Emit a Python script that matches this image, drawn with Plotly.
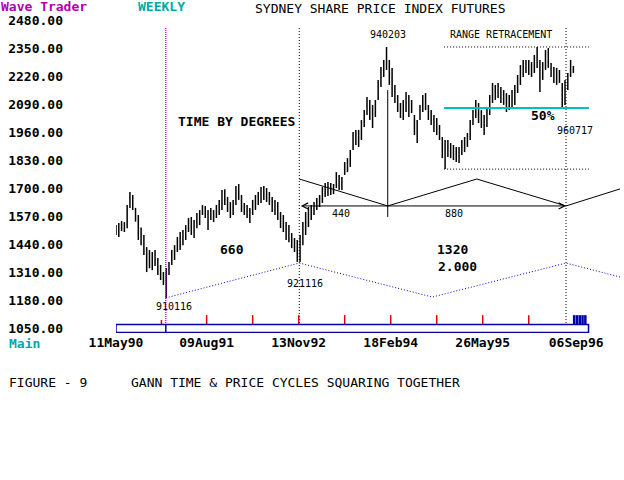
import pandas as pd
import plotly.graph_objects as go

START = "1990-05-11"
END = "1997-04-14"

# fortnightly high / low
bar_dates = pd.date_range(START, periods=165, freq="14D")
highs = [
    1530, 1540, 1549, 1544, 1623, 1684, 1670, 1610, 1577, 1519,
    1484, 1428, 1414, 1405, 1414, 1377, 1345, 1312, 1331, 1359,
    1414, 1437, 1475, 1498, 1507, 1530, 1563, 1568, 1554, 1586,
    1600, 1623, 1619, 1600, 1610, 1600, 1623, 1647, 1693, 1697,
    1661, 1637, 1647, 1712, 1721, 1670, 1633, 1623, 1610, 1647,
    1670, 1684, 1707, 1712, 1702, 1684, 1661, 1647, 1637, 1591,
    1577, 1544, 1530, 1493, 1470, 1461, 1484, 1544, 1591, 1614,
    1623, 1637, 1656, 1670, 1707, 1725, 1730, 1725, 1721, 1776,
    1763, 1753, 1823, 1841, 1879, 1962, 1972, 1972, 2018, 2064,
    2125, 2111, 2088, 2111, 2204, 2264, 2297, 2357, 2297, 2260,
    2181, 2134, 2097, 2111, 2148, 2134, 2111, 2041, 2018, 2088,
    2134, 2143, 2088, 2064, 2041, 2027, 1995, 1939, 1925, 1925,
    1911, 1902, 1893, 1893, 1925, 1939, 1958, 2018, 2064, 2111,
    2097, 2064, 2041, 2078, 2134, 2190, 2181, 2190, 2171, 2157,
    2143, 2134, 2157, 2181, 2227, 2273, 2297, 2297, 2297, 2287,
    2320, 2357, 2297, 2287, 2343, 2352, 2283, 2264, 2260, 2250,
    2190, 2204, 2236, 2297, 2269,
]
lows = [
    1484, 1475, 1502, 1498, 1516, 1610, 1600, 1546, 1461, 1437,
    1391, 1312, 1330, 1321, 1340, 1298, 1275, 1252, 1192, 1298,
    1345, 1368, 1405, 1414, 1437, 1461, 1498, 1484, 1470, 1516,
    1530, 1577, 1563, 1507, 1554, 1544, 1563, 1577, 1600, 1623,
    1591, 1563, 1577, 1623, 1647, 1591, 1577, 1563, 1540, 1577,
    1600, 1623, 1633, 1647, 1637, 1623, 1591, 1577, 1554, 1516,
    1498, 1461, 1451, 1423, 1405, 1359, 1359, 1437, 1484, 1521,
    1554, 1577, 1600, 1614, 1633, 1661, 1665, 1670, 1674, 1702,
    1693, 1693, 1763, 1776, 1800, 1879, 1902, 1893, 1925, 1985,
    2041, 2018, 1981, 2032, 2111, 2171, 2218, 2250, 2181, 2125,
    2097, 2055, 2027, 2018, 2055, 2032, 2050, 1948, 1911, 2018,
    2055, 2064, 2018, 1995, 1962, 1948, 1925, 1841, 1790, 1846,
    1841, 1832, 1823, 1818, 1855, 1869, 1893, 1925, 1995, 2027,
    2004, 1981, 1948, 1985, 2041, 2097, 2111, 2120, 2097, 2088,
    2055, 2064, 2074, 2088, 2143, 2181, 2218, 2236, 2227, 2218,
    2236, 2260, 2148, 2204, 2250, 2260, 2218, 2190, 2181, 2190,
    2074, 2088, 2157, 2218, 2236,
]

price_ticks = [1050, 1180, 1310, 1440, 1570, 1700, 1830, 1960, 2090, 2220, 2350, 2480]
date_ticks = ["1990-05-11", "1991-08-09", "1992-11-13", "1994-02-18", "1995-05-26", "1996-09-06"]

# turning points: 910116 low, 921116 low, 940203 high, 960717 low
LOW_91, LOW_92, HIGH_94, LOW_96 = "1991-01-16", "1992-11-16", "1994-02-03", "1996-07-17"

# blue dotted time cycle and black "degrees" zigzag
cycle_dates = [LOW_91, LOW_92, "1994-09-15", LOW_96, END]
cycle_prices = [1192, 1354, 1196, 1354, 1289]
degree_dates = [LOW_92, HIGH_94, "1995-04-26", LOW_96, END]
degree_prices = [1744, 1619, 1744, 1619, 1698]
degree_base = 1619

# range retracement box
range_high, range_low = 2357, 1790
range_mid = (range_high + range_low) / 2
range_from, range_to = "1994-11-13", "1996-11-09"

# time bar along the bottom
bar_lo, bar_hi = 1031, 1068
bar_end = "1996-11-07"
red_ticks = ["1991-08-09", "1992-03-27", "1992-11-13", "1993-07-02",
             "1994-02-18", "1994-10-07", "1995-05-26", "1996-01-12"]
blue_ticks = ["1996-08-27", "1996-09-10", "1996-09-24", "1996-10-08", "1996-10-22"]

MONO = "DejaVu Sans Mono"
MAGENTA = "#b000b0"
CYAN = "#00a8a8"
BLUE = "#0000aa"
RED = "#e00000"

fig = go.Figure()


def seg(x0, y0, x1, y1, color="black", width=1, dash="solid"):
    fig.add_trace(go.Scatter(x=[x0, x1], y=[y0, y1], mode="lines",
                             line=dict(color=color, width=width, dash=dash),
                             hoverinfo="skip", showlegend=False))


# price bars
xs, ys = [], []
for d, h, l in zip(bar_dates, highs, lows):
    xs += [d, d, None]
    ys += [l, h, None]
fig.add_trace(go.Scatter(x=xs, y=ys, mode="lines", line=dict(color="black", width=1.5),
                         hoverinfo="skip", showlegend=False))

# vertical time markers
seg(LOW_91, 2445, LOW_91, bar_hi, MAGENTA, 1.3, "1px,1px")
seg(LOW_92, 2445, LOW_92, bar_hi, "black", 1, "1px,2px")
seg(LOW_96, 2445, LOW_96, bar_hi, "black", 1, "1px,2px")
seg(HIGH_94, 2157, HIGH_94, 1568, "black", 1)

# cycles
fig.add_trace(go.Scatter(x=cycle_dates, y=cycle_prices, mode="lines",
                         line=dict(color="#0000cc", width=1, dash="1px,2px"),
                         hoverinfo="skip", showlegend=False))
fig.add_trace(go.Scatter(x=degree_dates, y=degree_prices, mode="lines",
                         line=dict(color="black", width=1),
                         hoverinfo="skip", showlegend=False))

# range retracement
seg(range_from, range_high, range_to, range_high, "black", 1, "1px,2px")
seg(range_from, range_low, range_to, range_low, "black", 1, "1px,2px")
seg(range_from, range_mid, range_to, range_mid, "#00c0c0", 2)

# time arrow between the lows
fig.add_annotation(x=LOW_96, y=degree_base, ax=LOW_92, ay=degree_base,
                   xref="x", yref="y", axref="x", ayref="y", text="",
                   showarrow=True, arrowhead=5, startarrowhead=5, arrowside="end+start",
                   arrowsize=1.2, startarrowsize=1.2, arrowwidth=1, arrowcolor="black")

# time bar
fig.add_shape(type="rect", x0=START, x1=bar_end, y0=bar_lo, y1=bar_hi,
              line=dict(color=BLUE, width=1.5))
seg(LOW_91, bar_lo, LOW_91, bar_hi, BLUE, 1.5)
seg("1990-12-25", bar_hi, "1990-12-25", 1090, RED, 1.5)
for d in red_ticks:
    seg(d, bar_hi, d, 1112, RED, 1.5)
for d in blue_ticks:
    seg(d, bar_hi, d, 1112, BLUE, 2.5)


def note(text, x, y, size=13, bold=True, color="black", xanchor="center", ref="data"):
    r = "x" if ref == "data" else "paper"
    fig.add_annotation(x=x, y=y, xref=r, yref="y" if ref == "data" else "paper",
                       text=text, showarrow=False, xanchor=xanchor, yanchor="middle",
                       font=dict(family=MONO, size=size, color=color,
                                 weight="bold" if bold else "normal"))


note("TIME BY DEGREES", "1992-01-06", 2013)
note("660", "1991-12-14", 1419)
note("1320", "1994-12-25", 1419)
note("2.000", "1995-01-17", 1336)
note("50%", "1996-03-21", 2037)
note("910116", "1991-02-24", 1150, 10, False)
note("921116", "1992-12-15", 1261, 10, False)
note("940203", "1994-02-04", 2417, 10, False)
note("960717", "1996-08-29", 1967, 10, False)
note("440", "1993-06-13", 1586, 10, False)
note("880", "1995-01-02", 1586, 10, False)
note("RANGE RETRACEMENT", "1994-12-03", 2413, 10, False, xanchor="left")

note("Wave Trader", -0.232, 1.042, color=MAGENTA, xanchor="left", ref="paper")
note("WEEKLY", 0.039, 1.042, color=CYAN, xanchor="left", ref="paper")
note("SYDNEY SHARE PRICE INDEX FUTURES", 0.271, 1.036, bold=False, xanchor="left", ref="paper")
note("Main", -0.216, -0.032, color=CYAN, xanchor="left", ref="paper")
note("FIGURE - 9", -0.216, -0.157, bold=False, xanchor="left", ref="paper")
note("GANN TIME &amp; PRICE CYCLES SQUARING TOGETHER", 0.025, -0.157, bold=False,
     xanchor="left", ref="paper")

fig.update_layout(
    width=624, height=480,
    margin=dict(l=116, r=4, t=20, b=147),
    paper_bgcolor="white", plot_bgcolor="white",
    showlegend=False,
    xaxis=dict(type="date", range=[START, END], showgrid=False, zeroline=False,
               showline=False, ticks="", tickvals=date_ticks, tickformat="%d%b%y",
               tickfont=dict(family=MONO, size=13, color="black", weight="bold")),
    yaxis=dict(range=[1029.1, 2482.3], showgrid=False, zeroline=False, showline=False,
               ticks="", tickvals=price_ticks, ticktext=[f"{v:.2f}" for v in price_ticks],
               ticklabelstandoff=52,
               tickfont=dict(family=MONO, size=13, color="black", weight="bold")),
)

# the page's default body margin would shift the figure off the reference grid
fig.write_html("out.html", config={"displayModeBar": False},
               post_script="document.body.style.margin='0px';")
